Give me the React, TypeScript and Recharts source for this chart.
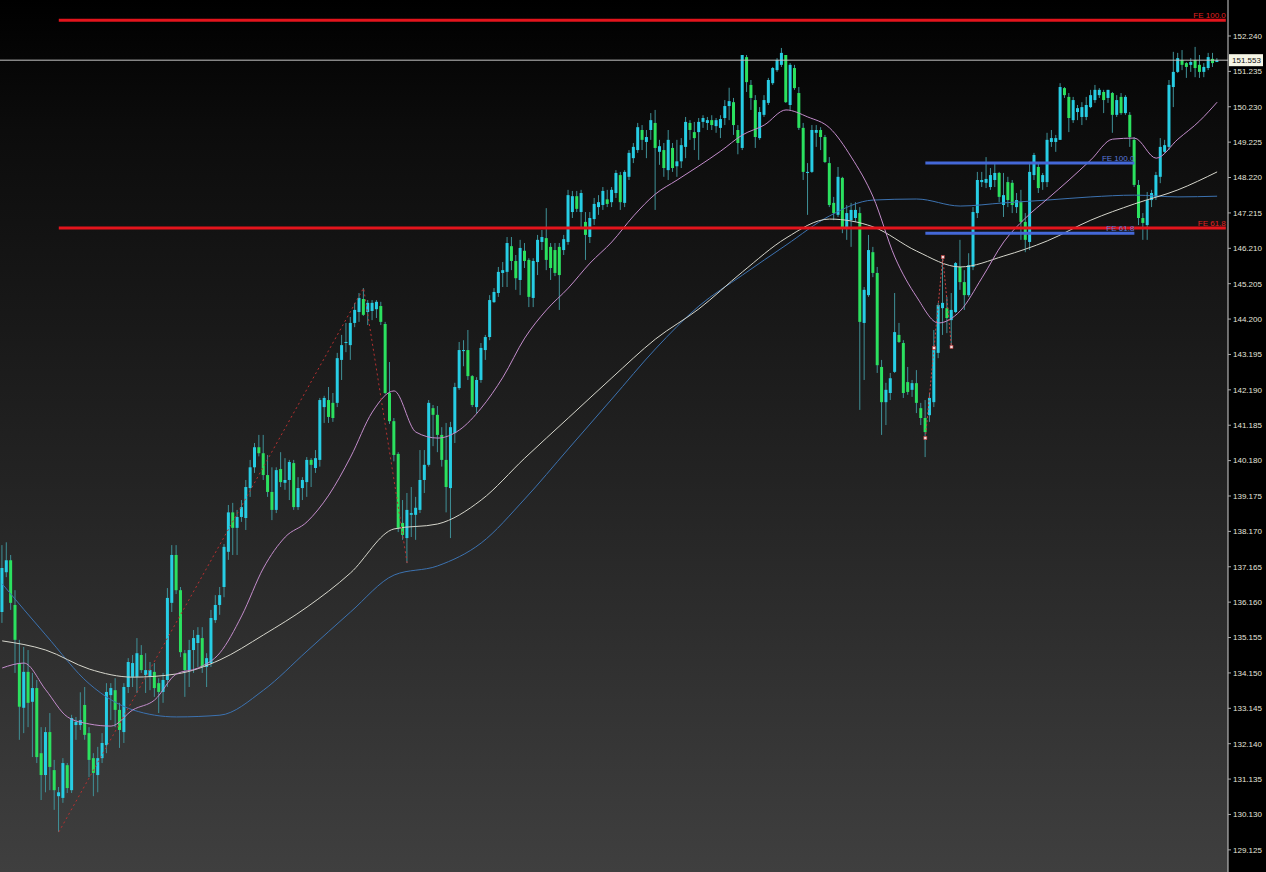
import React from 'react';
import { ComposedChart, Bar, Line, XAxis, YAxis, ReferenceLine } from 'recharts';

const W = 1266;
const H = 872;
const AXIS_W = 38;

// price scale labels on the right
const priceTicks = [
  152.24, 151.235, 150.23, 149.225, 148.22, 147.215, 146.21, 145.205, 144.2, 143.195, 142.19, 141.185,
  140.18, 139.175, 138.17, 137.165, 136.16, 135.155, 134.15, 133.145, 132.14, 131.135, 130.13, 129.125,
];

// OHLC, one value per bar (280 bars)
const opens = [
  135.88, 137.01, 137.35, 136.08, 134.43, 133.16, 134.18, 133.33, 133.72, 131.87,
  131.25, 132.47, 131.39, 130.65, 130.60, 131.53, 130.82, 132.67, 132.67, 133.24,
  132.44, 131.73, 131.25, 131.73, 132.10, 133.52, 133.66, 133.10, 132.47, 133.75,
  134.04, 134.04, 134.66, 134.09, 134.06, 134.18, 133.86, 133.61, 133.95, 136.14,
  137.50, 136.50, 134.71, 134.23, 134.80, 135.00, 135.14, 134.32, 134.43, 135.65,
  136.08, 136.59, 137.59, 138.71, 138.27, 138.58, 138.55, 139.40, 139.99, 140.56,
  140.39, 139.77, 139.29, 138.78, 139.94, 139.55, 139.63, 140.11, 138.86, 139.40,
  139.57, 140.20, 139.97, 140.20, 141.70, 141.90, 141.82, 141.82, 143.04, 143.52,
  143.46, 144.09, 144.40, 144.77, 144.40, 144.43, 144.48, 144.57, 144.06, 142.10,
  141.30, 140.37, 138.41, 137.98, 138.64, 138.64, 138.78, 139.63, 140.06, 141.67,
  141.48, 140.91, 140.20, 139.40, 140.96, 142.24, 143.29, 143.32, 142.58, 141.70,
  142.47, 143.32, 143.69, 144.68, 144.94, 145.51, 145.54, 146.27, 145.85, 145.31,
  146.14, 145.88, 144.80, 145.82, 146.39, 146.50, 146.25, 146.16, 146.25, 146.16,
  146.39, 147.24, 147.69, 147.24, 146.96, 146.53, 147.04, 147.38, 147.44, 147.60,
  147.52, 147.78, 148.29, 147.50, 148.24, 148.77, 149.00, 149.57, 149.23, 149.57,
  149.77, 148.95, 149.00, 148.43, 149.06, 148.54, 148.68, 149.09, 149.77, 149.51,
  149.51, 149.80, 149.77, 149.85, 149.68, 149.63, 149.91, 150.25, 150.36, 149.57,
  149.06, 151.64, 150.85, 150.42, 149.34, 150.00, 150.34, 150.90, 151.27, 151.42,
  151.70, 150.28, 151.33, 150.62, 149.63, 148.35, 148.38, 149.49, 149.57, 149.37,
  148.63, 147.50, 147.16, 148.21, 146.81, 147.01, 147.07, 147.21, 144.09, 144.88,
  146.10, 145.51, 142.84, 141.84, 142.10, 142.70, 143.75, 143.52, 142.41, 142.19,
  142.38, 141.67, 141.39, 141.47, 141.84, 143.24, 144.51, 144.51, 144.17, 144.40,
  145.68, 145.25, 144.88, 145.68, 147.21, 148.09, 148.07, 147.95, 148.15, 148.35,
  147.44, 148.09, 148.07, 147.38, 147.52, 146.96, 146.39, 148.29, 148.52, 148.09,
  148.09, 149.23, 149.23, 149.29, 150.76, 150.51, 149.85, 150.08, 149.94, 149.94,
  150.22, 150.42, 150.56, 150.65, 150.48, 150.62, 150.00, 150.51, 150.05, 150.00,
  149.29, 148.01, 147.07, 146.87, 147.58, 147.67, 148.24, 148.95, 149.09, 150.79,
  151.22, 151.56, 151.47, 151.42, 151.56, 151.42, 151.22, 151.33, 151.59, 151.50,
];

const highs = [
  137.78, 137.86, 137.50, 136.50, 135.09, 134.89, 134.80, 134.15, 133.95, 132.61,
  132.61, 133.01, 131.68, 130.91, 131.73, 131.59, 132.96, 132.90, 133.60, 133.75,
  132.61, 131.87, 132.05, 132.44, 133.86, 133.86, 134.00, 133.30, 133.86, 134.57,
  134.66, 135.14, 134.94, 134.71, 134.46, 134.43, 134.00, 134.15, 136.56, 137.78,
  137.78, 136.59, 134.80, 135.09, 135.37, 135.45, 135.45, 134.71, 135.94, 136.36,
  136.59, 137.81, 138.92, 138.98, 138.78, 139.06, 139.63, 140.20, 140.68, 140.91,
  140.91, 140.34, 139.99, 139.99, 140.42, 140.25, 140.20, 140.20, 139.71, 139.71,
  140.28, 140.25, 140.48, 141.96, 142.02, 142.27, 142.10, 143.24, 143.75, 144.09,
  144.26, 144.66, 144.94, 145.08, 144.74, 144.74, 144.74, 144.69, 144.12, 142.98,
  141.39, 140.42, 139.06, 139.26, 139.43, 139.15, 140.48, 140.48, 141.90, 141.76,
  141.73, 141.13, 141.25, 141.28, 142.39, 143.55, 143.60, 143.89, 142.61, 142.55,
  143.52, 143.75, 144.88, 145.08, 145.68, 145.82, 146.53, 146.53, 146.02, 146.45,
  146.36, 145.93, 145.93, 146.59, 146.73, 147.35, 146.36, 146.36, 146.36, 146.59,
  147.87, 147.84, 147.84, 147.87, 147.24, 147.24, 147.64, 147.72, 147.95, 147.87,
  147.95, 148.43, 148.38, 148.43, 149.00, 149.20, 149.77, 149.71, 149.57, 150.05,
  150.14, 149.29, 149.20, 149.57, 149.20, 149.29, 149.34, 149.94, 149.85, 149.80,
  149.91, 149.99, 149.94, 149.99, 149.91, 149.99, 150.42, 150.77, 150.48, 149.71,
  151.70, 151.70, 150.99, 150.56, 150.22, 150.56, 151.05, 151.36, 151.61, 151.90,
  151.70, 151.47, 151.42, 150.79, 149.77, 148.63, 149.71, 149.71, 149.65, 149.43,
  148.80, 147.67, 148.52, 148.24, 147.44, 147.50, 147.52, 147.38, 145.11, 146.59,
  146.25, 145.68, 143.04, 142.39, 142.67, 144.94, 144.09, 143.60, 142.84, 142.47,
  142.75, 141.82, 141.90, 142.10, 143.89, 144.66, 145.96, 144.83, 144.94, 145.82,
  146.45, 145.59, 146.07, 147.38, 148.38, 148.38, 148.80, 148.49, 148.66, 148.38,
  148.35, 148.24, 148.15, 147.78, 147.87, 147.21, 148.66, 148.92, 148.63, 148.35,
  149.49, 149.57, 149.43, 150.90, 150.79, 150.62, 150.51, 150.28, 150.36, 150.51,
  150.71, 150.85, 150.76, 150.71, 150.71, 150.65, 150.56, 150.62, 150.56, 150.08,
  149.37, 148.15, 147.21, 147.81, 147.87, 148.38, 149.34, 149.29, 150.99, 151.79,
  151.76, 151.84, 151.50, 151.61, 151.93, 151.70, 151.47, 151.76, 151.76, 151.61,
];

const lows = [
  135.57, 136.87, 135.94, 134.15, 132.25, 132.44, 132.61, 131.76, 131.59, 130.54,
  130.76, 130.82, 130.26, 129.63, 130.46, 130.74, 130.74, 132.25, 132.53, 132.25,
  131.19, 130.65, 130.76, 131.59, 131.87, 132.81, 132.61, 132.02, 132.16, 133.58,
  133.75, 133.58, 134.15, 133.58, 133.66, 133.47, 133.01, 133.30, 133.75, 135.88,
  136.39, 134.60, 133.47, 133.75, 134.15, 134.32, 134.15, 133.75, 134.32, 135.57,
  135.80, 136.30, 137.36, 137.50, 137.50, 138.44, 138.21, 139.15, 139.83, 140.30,
  139.63, 139.15, 138.49, 138.69, 139.43, 139.35, 139.06, 138.78, 138.78, 139.06,
  139.15, 139.43, 139.83, 140.01, 141.25, 141.25, 141.28, 141.70, 142.47, 143.26,
  143.04, 143.97, 144.12, 144.29, 144.03, 144.17, 144.23, 144.03, 142.07, 141.22,
  140.16, 138.15, 137.93, 137.27, 138.01, 137.93, 138.69, 139.26, 140.01, 140.59,
  140.42, 140.01, 138.71, 137.98, 140.68, 142.19, 142.86, 142.47, 141.70, 141.53,
  142.39, 143.04, 143.60, 144.66, 144.83, 145.11, 145.11, 145.59, 145.03, 144.88,
  145.65, 144.54, 144.54, 145.45, 146.16, 145.59, 145.31, 145.42, 144.46, 146.02,
  146.31, 147.07, 147.24, 146.81, 145.88, 146.36, 146.87, 147.16, 147.30, 147.38,
  147.38, 147.64, 147.30, 147.38, 148.15, 148.63, 148.92, 149.00, 148.77, 149.29,
  147.30, 148.58, 148.24, 148.15, 148.38, 148.24, 148.49, 148.77, 149.29, 149.00,
  148.72, 149.63, 149.57, 149.57, 149.49, 149.34, 149.71, 149.85, 149.43, 148.88,
  149.00, 150.65, 150.14, 149.06, 149.29, 149.94, 150.28, 150.85, 151.22, 151.36,
  150.34, 150.14, 150.71, 149.57, 148.15, 147.16, 148.35, 149.09, 149.00, 148.63,
  147.38, 147.01, 147.10, 146.64, 146.45, 146.25, 146.96, 141.62, 142.47, 144.83,
  145.39, 142.67, 140.91, 141.19, 141.90, 142.67, 143.52, 141.96, 142.05, 141.99,
  141.53, 141.19, 140.28, 141.28, 141.70, 143.09, 143.75, 143.80, 143.41, 144.37,
  145.03, 144.46, 144.83, 145.59, 147.07, 147.95, 147.92, 147.87, 147.95, 147.52,
  147.10, 147.38, 147.21, 147.21, 146.45, 146.10, 146.16, 148.15, 147.78, 147.87,
  147.95, 149.09, 148.95, 149.29, 150.48, 149.51, 149.77, 149.85, 149.71, 149.85,
  150.19, 150.34, 150.48, 150.05, 150.34, 149.49, 149.94, 150.00, 150.00, 149.09,
  147.95, 146.87, 146.45, 146.45, 147.38, 147.58, 148.06, 148.92, 149.00, 150.22,
  151.19, 151.27, 151.05, 151.22, 151.07, 151.05, 151.07, 151.27, 151.36, 151.50,
];

const closes = [
  137.13, 137.35, 136.14, 135.09, 133.19, 134.18, 133.30, 133.72, 131.76, 131.25,
  132.47, 131.48, 130.82, 130.76, 131.59, 130.88, 132.87, 132.76, 132.81, 132.39,
  131.68, 131.31, 131.73, 132.16, 133.61, 133.72, 133.10, 132.53, 133.75, 134.46,
  134.43, 134.71, 134.23, 134.23, 134.23, 133.72, 133.61, 133.95, 136.28, 137.50,
  136.50, 134.74, 134.23, 134.80, 135.14, 135.23, 134.32, 134.57, 135.71, 136.08,
  136.36, 137.73, 138.71, 138.27, 138.58, 138.86, 139.43, 139.99, 140.56, 140.39,
  139.77, 139.29, 138.78, 139.91, 139.57, 139.63, 140.14, 138.86, 139.40, 139.63,
  140.20, 140.06, 140.25, 141.90, 141.96, 141.42, 141.39, 143.09, 143.46, 143.55,
  144.09, 144.46, 144.80, 144.32, 144.66, 144.66, 144.69, 144.12, 142.10, 141.30,
  140.34, 138.27, 138.07, 138.78, 138.69, 138.84, 139.63, 140.06, 141.82, 141.48,
  140.91, 140.20, 139.43, 141.13, 142.27, 143.32, 143.32, 142.58, 141.76, 142.47,
  143.38, 143.69, 144.74, 144.97, 145.54, 145.59, 146.36, 145.85, 145.36, 146.22,
  145.85, 144.83, 145.85, 146.45, 146.53, 145.88, 145.65, 145.51, 145.45, 146.47,
  147.72, 147.69, 147.33, 147.78, 146.59, 147.07, 147.47, 147.52, 147.84, 147.47,
  147.87, 148.35, 147.52, 148.38, 148.92, 149.09, 149.65, 149.29, 149.37, 149.85,
  149.06, 149.11, 148.49, 149.29, 148.49, 148.68, 149.14, 149.80, 149.57, 149.34,
  149.80, 149.91, 149.85, 149.71, 149.85, 149.88, 150.25, 150.39, 149.71, 149.20,
  151.70, 150.93, 150.48, 149.37, 150.08, 150.42, 150.99, 151.33, 151.56, 151.76,
  150.36, 151.42, 150.76, 149.63, 148.38, 148.38, 149.57, 149.57, 149.37, 148.66,
  147.44, 147.21, 148.24, 146.81, 147.21, 147.30, 147.30, 144.12, 145.03, 146.16,
  145.51, 142.89, 141.84, 142.19, 142.52, 143.83, 143.55, 142.10, 142.13, 142.38,
  141.82, 141.39, 140.99, 141.96, 143.32, 144.60, 144.66, 144.23, 144.46, 145.79,
  145.25, 144.88, 145.73, 147.24, 148.15, 148.15, 148.18, 148.29, 148.35, 147.67,
  147.72, 147.58, 147.44, 147.58, 146.96, 146.45, 148.38, 148.86, 147.92, 148.29,
  149.29, 149.34, 149.34, 150.79, 150.56, 149.91, 150.42, 150.19, 150.22, 150.28,
  150.56, 150.71, 150.71, 150.42, 150.71, 150.00, 150.42, 150.05, 150.51, 149.37,
  148.01, 147.07, 146.93, 147.58, 147.78, 148.29, 149.09, 149.14, 150.85, 151.22,
  151.61, 151.42, 151.36, 151.50, 151.33, 151.22, 151.36, 151.64, 151.47, 151.553,
];

// moving averages at sample bars
const pinkAt = [
  0, 5, 10, 15, 20, 25, 30, 35, 40, 45, 50, 55, 60, 65, 70, 75, 80, 85, 90, 95,
  100, 105, 110, 115, 120, 125, 130, 135, 140, 145, 150, 155, 160, 165, 170, 175, 180, 185, 190, 195,
  200, 205, 210, 215, 220, 225, 230, 235, 240, 245, 250, 255, 260, 265, 270, 275, 279,
];
const pinkMA = [
  134.29, 134.43, 133.67, 132.90, 132.70, 132.64, 133.10, 133.38, 134.12, 134.29,
  134.72, 135.77, 137.13, 138.01, 138.44, 139.20, 140.28, 141.56, 142.16, 140.99,
  140.82, 141.05, 141.67, 142.55, 143.66, 144.46, 145.08, 145.79, 146.39, 147.13,
  147.75, 148.15, 148.55, 148.97, 149.43, 149.71, 150.14, 149.94, 149.63, 148.80,
  147.67, 145.96, 144.83, 144.09, 144.43, 145.37, 146.39, 147.07, 147.61, 148.15,
  148.72, 149.31, 149.34, 148.77, 149.31, 149.83, 150.36,
];
const slowAt = [
  0, 10, 20, 30, 40, 50, 60, 70, 80, 90, 100, 110, 120, 130, 140,
  150, 160, 170, 180, 190, 200, 210, 220, 230, 240, 250, 260, 270, 279,
];
const whiteMA = [
  135.06, 134.80, 134.26, 134.03, 134.12, 134.52, 135.23, 136.02, 136.99, 138.24,
  138.38, 139.06, 140.25, 141.39, 142.53, 143.63, 144.49, 145.54, 146.50, 147.04,
  146.82, 146.13, 145.68, 145.99, 146.42, 147.01, 147.47, 147.87, 148.38,
];
const blueMA = [
  136.68, 135.23, 133.84, 133.10, 132.90, 132.95, 133.66, 134.77, 135.88, 136.93,
  137.19, 137.84, 139.09, 140.51, 141.93, 143.35, 144.57, 145.45, 146.30, 147.13,
  147.58, 147.61, 147.41, 147.50, 147.58, 147.67, 147.72, 147.67, 147.69,
];

// zigzag anchors
const zigzagAt = [13, 83, 93];
const zigzag = [129.63, 145.08, 137.27];
const feAnchorAt = [212, 214, 216, 218];
const feAnchor = [140.82, 143.38, 145.96, 143.41];

// fibo expansion levels
const redLevels = [152.69, 146.79];
const redLabels = ['FE 100.0', 'FE 61.8'];
const blueLevels = [148.63, 146.64];
const blueLabels = ['FE 100.0', 'FE 61.8'];
const lastPrice = 151.553;

const SLOTS = 282;
const rows: any[] = Array.from({ length: SLOTS }, (_, i) => ({
  i,
  o: opens[i],
  h: highs[i],
  l: lows[i],
  c: closes[i],
}));
pinkAt.forEach((idx, k) => (rows[idx].pink = pinkMA[k]));
slowAt.forEach((idx, k) => {
  rows[idx].white = whiteMA[k];
  rows[idx].blue = blueMA[k];
});
zigzagAt.forEach((idx, k) => (rows[idx].zz = zigzag[k]));
feAnchorAt.forEach((idx, k) => (rows[idx].fe = feAnchor[k]));

const BULL = '#27cde4';
const BEAR = '#2be15f';
const WICK = '#3f9097';
const FONT = '"Liberation Sans", Arial, sans-serif';

const Candle = (props: any) => {
  const { x, y, width, height, payload } = props;
  if (!payload || payload.o == null) return null;
  const { o, h, l, c } = payload;
  const top = Math.min(y, y + height);
  const span = Math.abs(height);
  const k = span / (h - l || 1);
  const cx = x + width / 2;
  const yO = top + (h - o) * k;
  const yC = top + (h - c) * k;
  const bTop = Math.min(yO, yC);
  const bH = Math.max(1, Math.abs(yO - yC));
  return (
    <g>
      <line x1={cx} x2={cx} y1={top} y2={top + span} stroke={WICK} strokeWidth={1} />
      <rect x={cx - 1.5} y={bTop} width={3} height={bH} fill={c >= o ? BULL : BEAR} />
    </g>
  );
};

const levelLabel = (text: string, color: string) => (props: any) => {
  const vb = props.viewBox || {};
  const x = (vb.x ?? 0) + (vb.width ?? 0);
  const y = vb.y ?? 0;
  return (
    <text x={x} y={y - 2} fill={color} fontSize={8} fontFamily={FONT} textAnchor="end">
      {text}
    </text>
  );
};

const priceTag = (props: any) => {
  const vb = props.viewBox || {};
  const x = (vb.x ?? 0) + (vb.width ?? 0) + 1;
  const y = vb.y ?? 0;
  return (
    <g>
      <rect x={x} y={y - 6} width={34} height={12} fill="#f6f6e6" />
      <text x={x + 3} y={y + 3} fill="#111" fontSize={8} fontFamily={FONT}>
        {lastPrice.toFixed(3)}
      </text>
    </g>
  );
};

const AnchorDot = (props: any) => {
  const { cx, cy, value } = props;
  if (value == null || cx == null) return null;
  return <rect x={cx - 1.5} y={cy - 1.5} width={3} height={3} fill="#f3dede" stroke="#c03a3a" strokeWidth={0.6} />;
};

export default function App() {
  return (
    <div style={{ position: 'absolute', left: 0, top: 0, width: W, height: H, background: '#000', overflow: 'hidden' }}>
      <div
        style={{
          position: 'absolute',
          left: 0,
          top: 0,
          width: W - AXIS_W,
          height: H,
          background: 'linear-gradient(180deg, #000000 0%, #0c0c0c 15%, #232323 55%, #3f3f3f 100%)',
        }}
      />
      <div style={{ position: 'absolute', left: 0, top: 0 }}>
        <ComposedChart width={W} height={H} data={rows} margin={{ top: 0, right: 0, bottom: 0, left: 0 }}>
          <XAxis dataKey="i" type="category" hide />
          <YAxis
            orientation="right"
            width={AXIS_W}
            domain={[128.496, 153.262]}
            allowDataOverflow
            ticks={priceTicks}
            interval={0}
            tickFormatter={(v: number) => v.toFixed(3)}
            tick={{ fill: '#e4e4dc', fontSize: 8, fontFamily: FONT }}
            tickSize={3}
            tickMargin={2}
            axisLine={{ stroke: '#d0d0d0' }}
            tickLine={{ stroke: '#aaaaaa' }}
          />
          <Bar
            dataKey={(d: any) => (d.o == null ? null : [d.l, d.h])}
            shape={(p: any) => <Candle {...p} />}
            activeBar={false}
            isAnimationActive={false}
          />
          <Line dataKey="blue" stroke="#3c72b0" strokeWidth={1} dot={false} activeDot={false} connectNulls type="monotone" isAnimationActive={false} />
          <Line dataKey="white" stroke="#d6d6cc" strokeWidth={1} dot={false} activeDot={false} connectNulls type="monotone" isAnimationActive={false} />
          <Line dataKey="pink" stroke="#c38ccb" strokeWidth={1} dot={false} activeDot={false} connectNulls type="monotone" isAnimationActive={false} />
          <Line dataKey="zz" stroke="#b83030" strokeWidth={1} strokeDasharray="2 3" dot={false} activeDot={false} connectNulls type="linear" isAnimationActive={false} />
          <Line dataKey="fe" stroke="#c84040" strokeWidth={1} strokeDasharray="2 2" dot={<AnchorDot />} activeDot={false} connectNulls type="linear" isAnimationActive={false} />
          <ReferenceLine y={lastPrice} stroke="#c4c4c4" strokeWidth={1} label={priceTag} />
          {redLevels.map((p, k) => (
            <ReferenceLine
              key={'r' + k}
              segment={[{ x: 13, y: p }, { x: SLOTS - 1, y: p }]}
              stroke="#e3141c"
              strokeWidth={3}
              label={levelLabel(redLabels[k], '#e02020')}
            />
          ))}
          {blueLevels.map((p, k) => (
            <ReferenceLine
              key={'b' + k}
              segment={[{ x: 212, y: p }, { x: 260, y: p }]}
              stroke="#4468d8"
              strokeWidth={3}
              label={levelLabel(blueLabels[k], '#5a78d8')}
            />
          ))}
        </ComposedChart>
      </div>
    </div>
  );
}
